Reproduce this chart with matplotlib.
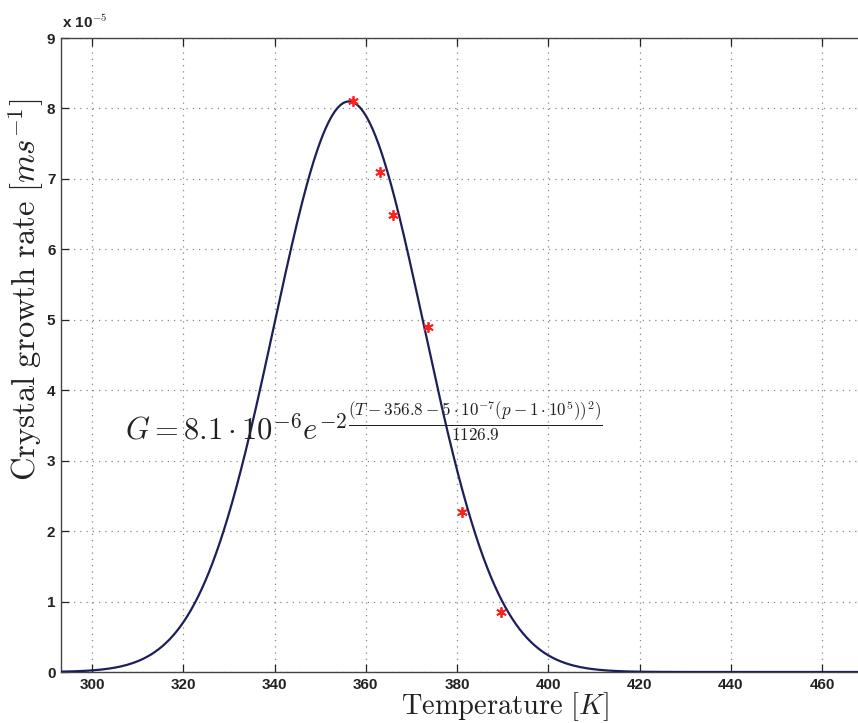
import numpy as np
import matplotlib
matplotlib.use("Agg")
import matplotlib.pyplot as plt

plt.rcParams['mathtext.fontset'] = 'cm'

# Measured data points (temperature K, growth rate in units of 1e-5 m/s)
temp_pts = [357.1, 363.0, 365.9, 373.7, 381.0, 389.6]
rate_pts = [8.10, 7.10, 6.49, 4.90, 2.27, 0.85]

# Fitted Gaussian model shown on the chart
amp = 8.1       # peak (x 1e-5)
center = 356.3  # K
width = 1080.0  # denominator in exponent

xticks = [300, 320, 340, 360, 380, 400, 420, 440, 460]
yticks = [0, 1, 2, 3, 4, 5, 6, 7, 8, 9]

fig = plt.figure(figsize=(8.58, 7.23), dpi=100)
ax = fig.add_axes([61/858, 1-672/723, 1.02 - 61/858, (672-38)/723])

T = np.linspace(293, 472, 900)
G = amp * np.exp(-2 * (T - center) ** 2 / width)
ax.plot(T, G, color='#1c1f5a', lw=1.6, zorder=3)
ax.plot(temp_pts, rate_pts, linestyle='none', marker=(6, 2, 0), color='#ff2020',
        markersize=7.5, mew=1.3, zorder=4)

ax.set_xlim(293.2, 471.6)
ax.set_ylim(0, 9)
ax.set_xticks(xticks)
ax.set_yticks(yticks)
ax.grid(True, linestyle=(0, (1, 4)), color='#888888', lw=0.9)
ax.tick_params(direction='in', length=6, top=True, right=True, width=0.9,
               labelsize=11, colors='#222222', pad=4)
for lab in ax.get_xticklabels() + ax.get_yticklabels():
    lab.set_fontfamily('Liberation Sans')
    lab.set_fontweight('bold')
for s in ax.spines.values():
    s.set_color('#444444')
    s.set_linewidth(1.0)
ax.spines['right'].set_visible(False)

fig.text(62/858, 1-22/723, r'x 10$^{\mathbf{-5}}$', fontsize=11, fontfamily='Liberation Sans',
         fontweight='bold', color='#222222', va='center', ha='left')

fig.text(505/858, 1-707/723, r'$\mathrm{Temperature}\ [K]$', fontsize=20.5,
         ha='center', va='center', color='#222222')
fig.text(26/858, 1-290/723, r'$\mathrm{Crystal\ growth\ rate}\ [ms^{-1}]$', fontsize=23.5,
         ha='center', va='center', rotation=90, color='#222222')

# Formula annotation
fig.text(125/858, 1-430/723, r'$G = 8.1\cdot10^{-6}e^{-2}$', fontsize=22,
         ha='left', va='center', color='#222222')
fig.text(475/858, 1-421/723,
         r'$\frac{(T-356.8-5\cdot10^{-7}(p-1\cdot10^5))^2)}{1126.9}$',
         fontsize=17.5, ha='center', va='center', color='#222222')

fig.savefig('out.png', dpi=100)
